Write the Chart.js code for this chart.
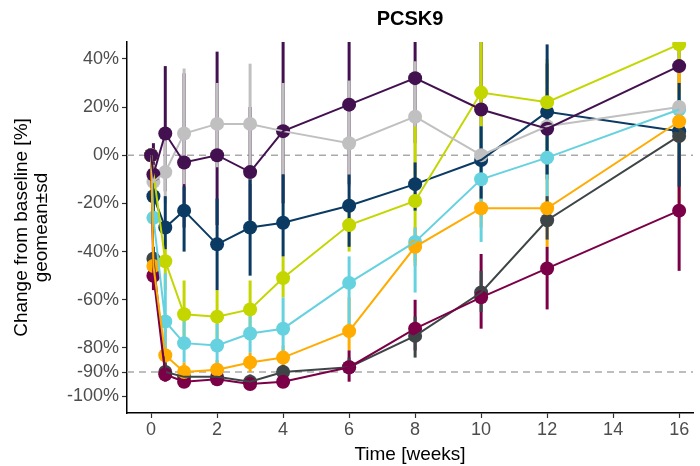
<!DOCTYPE html>
<html><head><meta charset="utf-8">
<style>html,body{margin:0;padding:0;background:#fff;overflow:hidden}#wrap{width:700px;height:466px}</style>
<script src="https://cdn.jsdelivr.net/npm/chart.js@4"></script>
</head><body><div id="wrap"><canvas id="c" width="700" height="466"></canvas></div>
<script>
// ---- data ----
const times = [0, 0.07, 0.43, 1, 2, 3, 4, 6, 8, 10, 12, 16];
const xTicks = [0, 2, 4, 6, 8, 10, 12, 14, 16];
const yTicks = [40, 20, 0, -20, -40, -60, -80, -90, -100];
const refLines = [0, -90];

const purpleMean = [0, -8, 9, -3, 0, -7, 10, 21, 32, 19, 11, 37];
const purpleLo   = [0, -22, -15, -30, -29, -27, -20, -12, 5, -5, -10, 18];
const purpleHi   = [0, 5, 37, 34, 43, 20, 55, 55, 60, 50, 38, 60];

const grayMean = [0, -11, -7, 9, 13, 13, 10, 5, 16, 0, 12, 20];
const grayLo   = [0, -18, -20, -12, -5, -12, -8, -13, -8, -26, -8, -2];
const grayHi   = [0, -4, 8, 36, 30, 38, 30, 31, 39, 22, 30, 45];

const limeMean = [0, null, -44, -66, -67, -64, -51, -29, -19, 26, 22, 46];
const limeLo   = [0, null, -56, -78, -78, -76, -59, -40, -44, 5, -8, 25];
const limeHi   = [0, null, -35, -52, -56, -52, -42, -18, 12, 55, 40, 60];

const orangeMean = [0, -46, -83, -90, -89, -86, -84, -73, -38, -22, -22, 14];
const orangeLo   = [0, -52, -89, -93, -92, -90, -88, -81, -46, -30, -38, -20];
const orangeHi   = [0, -40, -72, -86, -85, -82, -79, -59, -30, -14, -8, 40];

const cyanMean = [0, -26, -69, -78, -79, -74, -72, -53, -36, -10, -1, 19];
const cyanLo   = [0, -32, -81, -86, -87, -82, -83, -73, -57, -36, -20, 10];
const cyanHi   = [0, -20, -49, -68, -70, -66, -59, -42, -30, 12, 15, 25];

const maroonMean = [0, -50, -91, -94, -93, -95, -94, -88, -72, -59, -47, -23];
const maroonLo   = [0, -56, -94, -96, -95, -97, -96, -94, -81, -72, -64, -48];
const maroonHi   = [0, -44, -87, -91, -90, -92, -91, -81, -60, -41, -38, 0];

const charcoalMean = [0, -43, -90, -92, -92, -94, -90, -88, -75, -57, -27, 8];
const charcoalLo   = [0, -48, -93, -94, -94, -96, -93, -91, -84, -65, -35, 0];
const charcoalHi   = [0, -38, -86, -89, -89, -91, -87, -84, -67, -48, -17, 16];

const navyMean = [0, -17, -30, -23, -37, -30, -28, -21, -12, -2, 18, 10];
const navyLo   = [0, -25, -39, -40, -56, -50, -42, -38, -23, -18, -8, -13];
const navyHi   = [0, -9, -17, -13, -18, -10, -8, -8, -3, 12, 46, 30];

// ---- styling ----
const FONT = "'Liberation Sans', Arial, sans-serif";
const series = [
  {color:'#43114f', mean:purpleMean, lo:purpleLo, hi:purpleHi},
  {color:'#c0c0c0', mean:grayMean, lo:grayLo, hi:grayHi},
  {color:'#c4d600', mean:limeMean, lo:limeLo, hi:limeHi},
  {color:'#ffab00', mean:orangeMean, lo:orangeLo, hi:orangeHi},
  {color:'#67d2df', mean:cyanMean, lo:cyanLo, hi:cyanHi},
  {color:'#7b0047', mean:maroonMean, lo:maroonLo, hi:maroonHi},
  {color:'#3e4547', mean:charcoalMean, lo:charcoalLo, hi:charcoalHi},
  {color:'#0b3a63', mean:navyMean, lo:navyLo, hi:navyHi}
];
const toPts = arr => times.map((t,i)=>({x:t, y:arr[i]})).filter(p=>p.y!==null);

const lineSets = series.map(s=>({data:toPts(s.mean), borderColor:s.color, borderWidth:2,
  pointRadius:0, pointHoverRadius:0, fill:false, spanGaps:true, clip:0, tension:0}));
const pointSets = series.map(s=>({data:toPts(s.mean), showLine:false, pointRadius:7, pointHoverRadius:7,
  pointBackgroundColor:s.color, pointBorderWidth:0, borderColor:s.color, clip:0}));

const underlay = {
  id:'underlay',
  beforeDatasetsDraw(chart){
    const {ctx, chartArea:a, scales:{x,y}} = chart;
    ctx.save();
    ctx.beginPath(); ctx.rect(a.left, a.top, a.right-a.left, a.bottom-a.top); ctx.clip();
    ctx.strokeStyle = '#a9a9a9'; ctx.lineWidth = 1.6; ctx.setLineDash([7,5]);
    refLines.forEach(v=>{ const py = y.getPixelForValue(v);
      ctx.beginPath(); ctx.moveTo(a.left, py); ctx.lineTo(a.right, py); ctx.stroke(); });
    ctx.setLineDash([]); ctx.lineWidth = 3; ctx.lineCap = 'butt';
    series.forEach(s=>{
      ctx.strokeStyle = s.color;
      times.forEach((t,i)=>{
        if (s.lo[i]===null || s.lo[i]===s.hi[i]) return;
        const px = x.getPixelForValue(t);
        ctx.beginPath(); ctx.moveTo(px, y.getPixelForValue(s.lo[i])); ctx.lineTo(px, y.getPixelForValue(s.hi[i])); ctx.stroke();
      });
    });
    ctx.restore();
  },
  afterDraw(chart){
    const {ctx, chartArea:a} = chart;
    ctx.save(); ctx.fillStyle = '#000'; ctx.font = 'bold 20px ' + FONT;
    ctx.textAlign = 'center'; ctx.textBaseline = 'middle';
    ctx.fillText('PCSK9', (a.left + a.right)/2, 19);
    ctx.restore();
  }
};

new Chart(document.getElementById('c'), {
  type:'line',
  data:{datasets:[...lineSets, ...pointSets]},
  plugins:[underlay],
  options:{
    responsive:false, animation:false, devicePixelRatio:1,
    layout:{padding:{top:42, right:0, left:0, bottom:0}},
    plugins:{legend:{display:false}, tooltip:{enabled:false}, title:{display:false}},
    scales:{
      x:{type:'linear', min:-0.73, max:16.42,
        afterBuildTicks:s=>{s.ticks = xTicks.map(v=>({value:v}));},
        afterFit:s=>{s.height = 53;},
        ticks:{color:'#4d4d4d', font:{family:FONT, size:18}, padding:1, maxRotation:0, autoSkip:false},
        grid:{drawOnChartArea:false, drawTicks:true, tickLength:5, tickColor:'#333', tickWidth:1.2},
        border:{display:true, color:'#000', width:1.5},
        title:{display:true, text:'Time [weeks]', color:'#000', font:{family:FONT, size:19}, padding:{top:0, bottom:0}}
      },
      y:{type:'linear', min:-107, max:47,
        afterBuildTicks:s=>{s.ticks = yTicks.map(v=>({value:v}));},
        afterFit:s=>{s.width = 127;},
        ticks:{color:'#4d4d4d', font:{family:FONT, size:18}, padding:3, autoSkip:false, callback:v=>v+'%'},
        grid:{drawOnChartArea:false, drawTicks:true, tickLength:5, tickColor:'#333', tickWidth:1.2},
        border:{display:true, color:'#000', width:1.5},
        title:{display:true, text:['Change from baseline [%]','geomean\u00b1sd'], color:'#000',
          font:{family:FONT, size:19, lineHeight:1.05}, padding:{top:12, bottom:0}}
      }
    }
  }
});
</script>
</body></html>
